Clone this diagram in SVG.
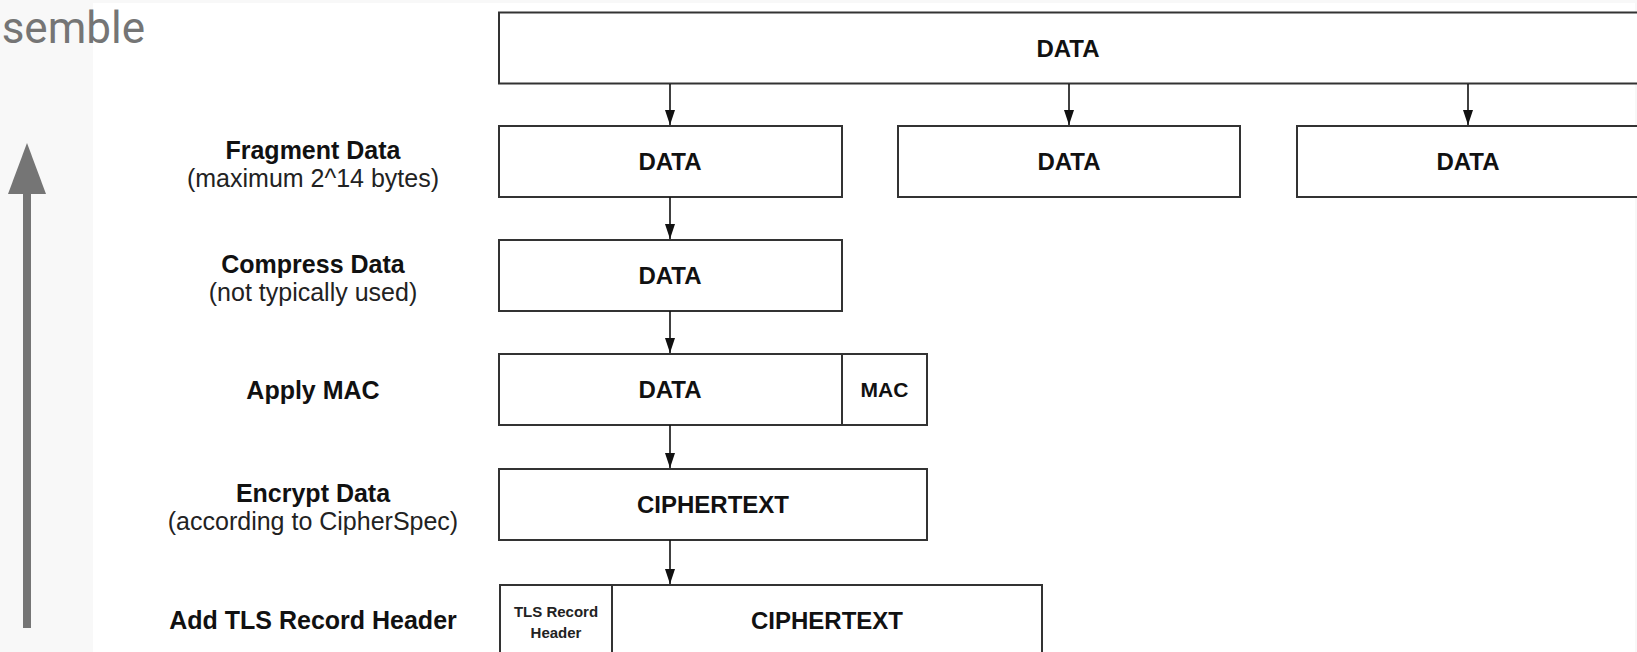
<svg xmlns="http://www.w3.org/2000/svg" width="1637" height="652" viewBox="0 0 1637 652">
  <defs>
    <marker id="head" markerUnits="userSpaceOnUse" markerWidth="16" markerHeight="12" viewBox="0 0 16 12" refX="15" refY="6" orient="auto">
      <path d="M0,1 L15,6 L0,11 Z" fill="#111"/>
    </marker>
    <style>
      .box { fill: #fff; stroke: #333; stroke-width: 2; }
      .cell { fill: none; stroke: #333; stroke-width: 2; }
      .lbl { font-family: "Liberation Sans", Arial, sans-serif; font-weight: bold; font-size: 24px; fill: #111; text-anchor: middle; }
      .small { font-family: "Liberation Sans", Arial, sans-serif; font-weight: bold; font-size: 15px; fill: #222; text-anchor: middle; }
      .mac { font-family: "Liberation Sans", Arial, sans-serif; font-weight: bold; font-size: 21px; fill: #111; text-anchor: middle; }
      .step { font-family: "Liberation Sans", Arial, sans-serif; font-weight: bold; font-size: 25px; fill: #111; text-anchor: middle; }
      .note { font-family: "Liberation Sans", Arial, sans-serif; font-size: 25px; fill: #222; text-anchor: middle; }
      .flow { stroke: #111; stroke-width: 1.6; fill: none; marker-end: url(#head); }
    </style>
  </defs>

  <!-- page background with side panel -->
  <rect x="0" y="0" width="1637" height="652" fill="#f8f8f8"/>
  <rect x="93" y="3" width="1542" height="649" fill="#ffffff"/>

  <!-- side title and direction arrow -->
  <g id="side">
    <text x="145" y="43" font-family="Roboto, 'Noto Sans', sans-serif" font-size="44" fill="#757575" text-anchor="end">semble</text>
    <rect x="23" y="192" width="8" height="436" fill="#757575"/>
    <path d="M27,143 L46,194 L8,194 Z" fill="#757575"/>
  </g>

  <!-- step labels -->
  <g id="label-fragment">
    <text class="step" x="313" y="159">Fragment Data</text>
    <text class="note" x="313" y="187">(maximum 2^14 bytes)</text>
  </g>
  <g id="label-compress">
    <text class="step" x="313" y="273">Compress Data</text>
    <text class="note" x="313" y="301">(not typically used)</text>
  </g>
  <g id="label-mac">
    <text class="step" x="313" y="399">Apply MAC</text>
  </g>
  <g id="label-encrypt">
    <text class="step" x="313" y="502">Encrypt Data</text>
    <text class="note" x="313" y="530">(according to CipherSpec)</text>
  </g>
  <g id="label-header">
    <text class="step" x="313" y="629">Add TLS Record Header</text>
  </g>

  <!-- record boxes -->
  <g id="data-in">
    <rect class="box" x="499" y="12.5" width="1160" height="71"/>
    <text class="lbl" x="1068" y="56.5">DATA</text>
  </g>
  <g id="fragment-1">
    <rect class="box" x="499" y="126" width="343" height="71"/>
    <text class="lbl" x="670" y="170">DATA</text>
  </g>
  <g id="fragment-2">
    <rect class="box" x="898" y="126" width="342" height="71"/>
    <text class="lbl" x="1069" y="170">DATA</text>
  </g>
  <g id="fragment-3">
    <rect class="box" x="1297" y="126" width="350" height="71"/>
    <text class="lbl" x="1468" y="170">DATA</text>
  </g>
  <g id="compressed">
    <rect class="box" x="499" y="240" width="343" height="71"/>
    <text class="lbl" x="670" y="284">DATA</text>
  </g>
  <g id="with-mac">
    <rect class="box" x="499" y="354" width="428" height="71"/>
    <line class="cell" x1="842" y1="354" x2="842" y2="425"/>
    <text class="lbl" x="670" y="398">DATA</text>
    <text class="mac" x="884.5" y="397">MAC</text>
  </g>
  <g id="encrypted">
    <rect class="box" x="499" y="469" width="428" height="71"/>
    <text class="lbl" x="713" y="513">CIPHERTEXT</text>
  </g>
  <g id="record">
    <rect class="box" x="500" y="585" width="542" height="80"/>
    <line class="cell" x1="612" y1="585" x2="612" y2="652"/>
    <text class="small" x="556" y="617">TLS Record</text>
    <text class="small" x="556" y="638">Header</text>
    <text class="lbl" x="827" y="629">CIPHERTEXT</text>
  </g>

  <!-- connectors -->
  <g id="connectors">
    <line class="flow" x1="670" y1="84" x2="670" y2="125"/>
    <line class="flow" x1="1069" y1="84" x2="1069" y2="125"/>
    <line class="flow" x1="1468" y1="84" x2="1468" y2="125"/>
    <line class="flow" x1="670" y1="197" x2="670" y2="239"/>
    <line class="flow" x1="670" y1="311" x2="670" y2="353"/>
    <line class="flow" x1="670" y1="425" x2="670" y2="468"/>
    <line class="flow" x1="670" y1="540" x2="670" y2="584"/>
  </g>
</svg>
